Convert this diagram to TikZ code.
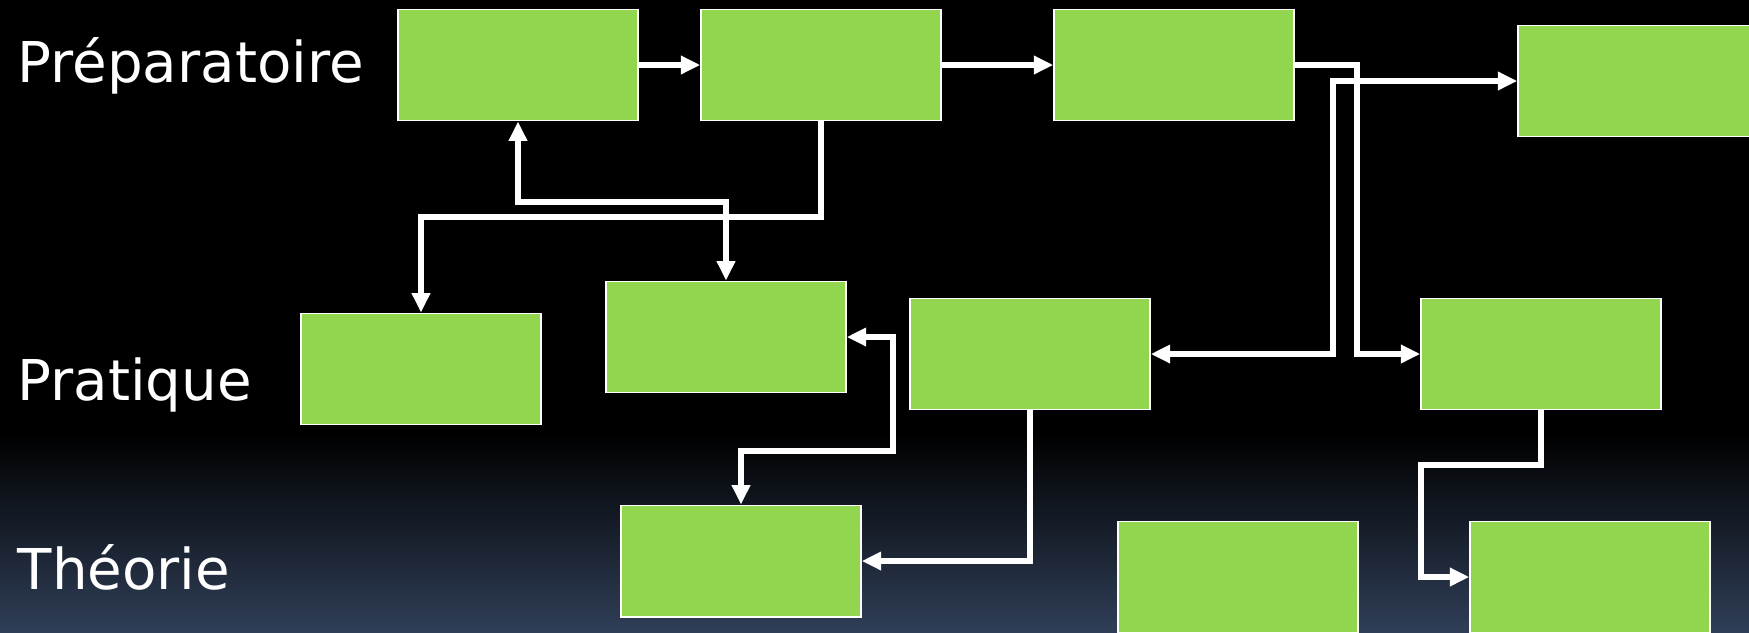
\documentclass[tikz,border=0pt]{standalone}
\usepackage{fontspec}
\setmainfont{DejaVu Sans}
\usepackage{xcolor}
\usepackage{tikz}
\usetikzlibrary{arrows.meta}
\definecolor{boxgreen}{RGB}{146,214,80}
\definecolor{slate}{RGB}{47,62,87}

\begin{document}
\begin{tikzpicture}[x=0.01cm, y=0.01cm]
    \tikzset{stage/.style={draw=white, line width=0.4pt, fill=boxgreen, minimum width=2.4cm, minimum height=1.115cm, inner sep=0pt}}
    \tikzset{link/.style={white, line width=1.6pt, -{Triangle[length=5.5pt,width=5pt]}}}
    \tikzset{duallink/.style={white, line width=1.6pt, {Triangle[length=5.5pt,width=5pt]}-{Triangle[length=5.5pt,width=5pt]}}}
    \tikzset{level/.style={text=white, anchor=base west, inner sep=0pt, font=\fontsize{16}{19}\selectfont}}

    \useasboundingbox (0,0) rectangle (1749,632);
    \clip (0,0) rectangle (1749,632);
    \fill[black] (0,0) rectangle (1749,632);
    \shade[top color=black, bottom color=slate] (0,0) rectangle (1749,200);

    \node[level] (lprep) at (17,550) {Préparatoire};
    \node[level] (lprat) at (17,232) {Pratique};
    \node[level] (ltheo) at (17,43) {Théorie};

    \node[stage] (prep1) at (518,567) {};
    \node[stage] (prep2) at (821,567) {};
    \node[stage] (prep3) at (1174,567) {};
    \node[stage] (prep4) at (1638,551) {};
    \node[stage] (prat1) at (421,263) {};
    \node[stage] (prat2) at (726,295) {};
    \node[stage] (prat3) at (1030,278) {};
    \node[stage] (prat4) at (1541,278) {};
    \node[stage] (theo1) at (741,71) {};
    \node[stage] (theo2) at (1238,55) {};
    \node[stage] (theo3) at (1590,55) {};

    \coordinate (c1) at (1357,0);
    \coordinate (g1) at (1333,0);
    \coordinate (a1) at (0,430);
    \coordinate (b1) at (0,415);
    \coordinate (f1) at (893,181);
    \coordinate (h1) at (1421,167);

    \draw[link] (prep1) -- (prep2);
    \draw[link] (prep2) -- (prep3);
    \draw[duallink] (prat3.east) -- (prat3.east -| g1) |- (prep4.west);
    \draw[link] (prep3.east) -- (prep3.east -| c1) |- (prat4.west);
    \draw[link] (prep2.south) -- (prep2.south |- b1) -| (prat1.north);
    \draw[duallink] (prep1.south) -- (prep1.south |- a1) -| (prat2.north);
    \draw[duallink] (prat2.east) -| (f1) -| (theo1.north);
    \draw[link] (prat3.south) |- (theo1.east);
    \draw[link] (prat4.south) |- (h1) |- (theo3.west);
\end{tikzpicture}
\end{document}
